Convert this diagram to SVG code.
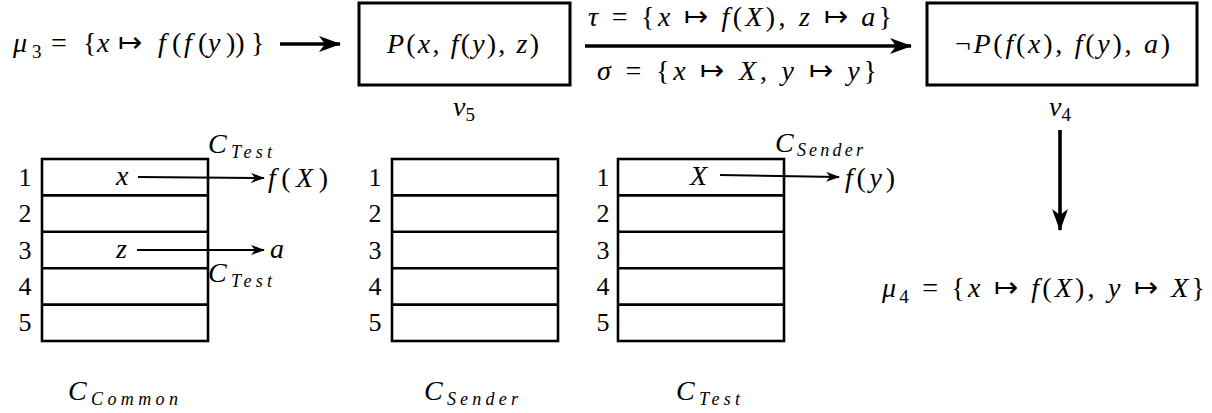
<svg xmlns="http://www.w3.org/2000/svg" width="1212" height="413" viewBox="0 0 1212 413" font-family="Liberation Serif, Times New Roman, Times, serif" font-size="28">
<style>
text{fill:#000}
.i{font-style:italic}
.s{font-size:18px;font-style:italic}
.sn{font-size:19px}
.mt{font-size:29px}
.box{fill:#fff;stroke:#000;stroke-width:3}
.tbl{fill:none;stroke:#000;stroke-width:2.6}
.thin{stroke:#000;stroke-width:2;fill:none;marker-end:url(#ah)}
.thick{stroke:#000;stroke-width:3.6;fill:none;marker-end:url(#ahb)}
.num{text-anchor:middle;font-size:26px}
</style>
<defs>
<marker id="ah" markerUnits="userSpaceOnUse" viewBox="0 0 14 10" refX="13" refY="5" markerWidth="14" markerHeight="10" orient="auto"><path d="M0,0 L14,5 L0,10 L4,5 z"/></marker>
<marker id="ahb" markerUnits="userSpaceOnUse" viewBox="0 0 22 16" refX="21" refY="8" markerWidth="22" markerHeight="16" orient="auto"><path d="M0,0 L22,8 L0,16 L6,8 z"/></marker>
</defs>

<g id="mu3">
<text y="52"><tspan class="i" x="13">μ</tspan><tspan class="sn" x="32" dy="6">3</tspan><tspan x="51" dy="-6">=</tspan><tspan x="83">{</tspan><tspan class="i" x="97">x</tspan><tspan class="mt" x="118">↦</tspan><tspan class="i" x="158">f</tspan><tspan x="172">(</tspan><tspan class="i" x="184">f</tspan><tspan x="198">(</tspan><tspan class="i" x="208">y</tspan><tspan x="226">))</tspan><tspan x="251">}</tspan></text>
</g>

<g id="v5">
<rect class="box" x="359" y="3" width="211" height="82"/>
<text x="387" y="53" textLength="152" lengthAdjust="spacing"><tspan class="i">P</tspan>(<tspan class="i">x</tspan>, <tspan class="i">f</tspan>(<tspan class="i">y</tspan>), <tspan class="i">z</tspan>)</text>
<text x="464" y="116" text-anchor="middle"><tspan class="i">v</tspan><tspan class="sn" dy="5">5</tspan></text>
</g>

<g id="v4">
<rect class="box" x="927" y="3" width="270" height="82"/>
<text x="955" y="53" textLength="215" lengthAdjust="spacing">¬<tspan class="i">P</tspan>(<tspan class="i">f</tspan>(<tspan class="i">x</tspan>), <tspan class="i">f</tspan>(<tspan class="i">y</tspan>), <tspan class="i">a</tspan>)</text>
<text x="1060" y="116" text-anchor="middle"><tspan class="i">v</tspan><tspan class="sn" dy="5">4</tspan></text>
</g>

<g id="mu4">
<text x="882" y="297" textLength="323" lengthAdjust="spacing"><tspan class="i">μ</tspan><tspan class="sn" dy="6">4</tspan><tspan dy="-6"> = {</tspan><tspan class="i">x</tspan> <tspan class="mt">↦</tspan> <tspan class="i">f</tspan>(<tspan class="i">X</tspan>), <tspan class="i">y</tspan> <tspan class="mt">↦</tspan> <tspan class="i">X</tspan>}</text>
</g>

<g id="edge-labels">
<text x="588" y="26" textLength="304" lengthAdjust="spacing"><tspan class="i">τ</tspan> = {<tspan class="i">x</tspan> <tspan class="mt">↦</tspan> <tspan class="i">f</tspan>(<tspan class="i">X</tspan>), <tspan class="i">z</tspan> <tspan class="mt">↦</tspan> <tspan class="i">a</tspan>}</text>
<text x="597" y="80" textLength="280" lengthAdjust="spacing"><tspan class="i">σ</tspan> = {<tspan class="i">x</tspan> <tspan class="mt">↦</tspan> <tspan class="i">X</tspan>, <tspan class="i">y</tspan> <tspan class="mt">↦</tspan> <tspan class="i">y</tspan>}</text>
</g>

<g id="ccommon">
<rect class="tbl" x="42" y="159" width="166" height="182"/>
<path class="tbl" d="M42,195.4H208M42,231.8H208M42,268.2H208M42,304.6H208"/>
<text class="num" x="25" y="186">1</text>
<text class="num" x="25" y="222">2</text>
<text class="num" x="25" y="259">3</text>
<text class="num" x="25" y="295">4</text>
<text class="num" x="25" y="331">5</text>
<text class="i" x="116" y="185">x</text>
<text class="i" x="116" y="258">z</text>
<text x="268" y="187" textLength="60" lengthAdjust="spacing"><tspan class="i">f</tspan>(<tspan class="i">X</tspan>)</text>
<text class="i" x="270" y="258">a</text>
<text x="208" y="153" textLength="64" lengthAdjust="spacing"><tspan class="i">C</tspan><tspan class="s" dy="5">Test</tspan></text>
<text x="208" y="282" textLength="64" lengthAdjust="spacing"><tspan class="i">C</tspan><tspan class="s" dy="5">Test</tspan></text>
<text x="68" y="400" textLength="110" lengthAdjust="spacing"><tspan class="i">C</tspan><tspan class="s" dy="5">Common</tspan></text>
</g>

<g id="csender">
<rect class="tbl" x="392" y="159" width="166" height="182"/>
<path class="tbl" d="M392,195.4H558M392,231.8H558M392,268.2H558M392,304.6H558"/>
<text class="num" x="375" y="186">1</text>
<text class="num" x="375" y="222">2</text>
<text class="num" x="375" y="259">3</text>
<text class="num" x="375" y="295">4</text>
<text class="num" x="375" y="331">5</text>
<text x="424" y="400" textLength="94" lengthAdjust="spacing"><tspan class="i">C</tspan><tspan class="s" dy="5">Sender</tspan></text>
</g>

<g id="ctest">
<rect class="tbl" x="618" y="159" width="166" height="182"/>
<path class="tbl" d="M618,195.4H784M618,231.8H784M618,268.2H784M618,304.6H784"/>
<text class="num" x="603" y="186">1</text>
<text class="num" x="603" y="222">2</text>
<text class="num" x="603" y="259">3</text>
<text class="num" x="603" y="295">4</text>
<text class="num" x="603" y="331">5</text>
<text class="i" x="690" y="185">X</text>
<text x="845" y="187" textLength="50" lengthAdjust="spacing"><tspan class="i">f</tspan>(<tspan class="i">y</tspan>)</text>
<text x="775" y="152" textLength="88" lengthAdjust="spacing"><tspan class="i">C</tspan><tspan class="s" dy="4">Sender</tspan></text>
<text x="676" y="400" textLength="64" lengthAdjust="spacing"><tspan class="i">C</tspan><tspan class="s" dy="5">Test</tspan></text>
</g>

<g id="connectors">
<line class="thick" x1="280" y1="44" x2="340" y2="44"/>
<line class="thick" x1="585" y1="46" x2="911" y2="46"/>
<line class="thick" x1="1060" y1="130" x2="1060" y2="230"/>
<line class="thin" x1="138" y1="177" x2="264" y2="178"/>
<line class="thin" x1="137" y1="250" x2="264" y2="250"/>
<line class="thin" x1="720" y1="175" x2="839" y2="177"/>
</g>
</svg>
